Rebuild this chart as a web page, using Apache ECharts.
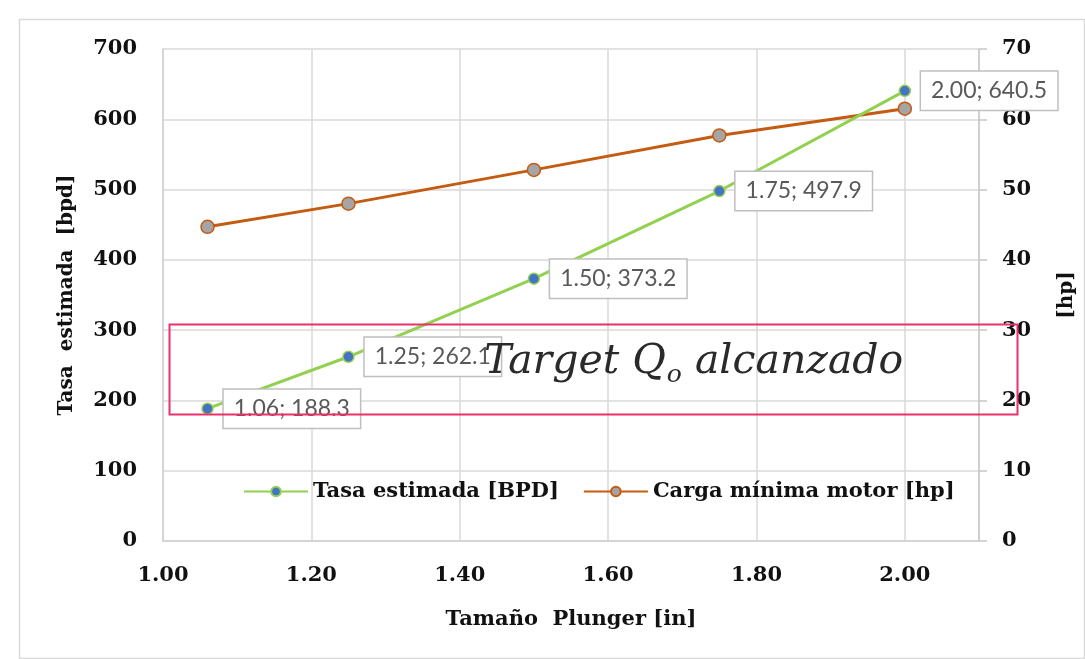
<!DOCTYPE html>
<html>
<head>
<meta charset="utf-8">
<script src="https://cdn.jsdelivr.net/npm/echarts@6/dist/echarts.min.js"></script>
<style>
  html, body { margin: 0; padding: 0; background: #fff; }
  #main { width: 1085px; height: 659px; }
</style>
</head>
<body>
<div id="main"></div>
<script>
// plunger sizes [in]
var plunger = [1.06, 1.25, 1.50, 1.75, 2.00];
// estimated rate [BPD]
var tasa = [188.3, 262.1, 373.2, 497.9, 640.5];
// minimum motor load [hp]
var carga = [44.7, 48.0, 52.8, 57.7, 61.5];
var xTicks = [1.00, 1.20, 1.40, 1.60, 1.80, 2.00];
var yLeftTicks = [0, 100, 200, 300, 400, 500, 600, 700];
var yRightTicks = [0, 10, 20, 30, 40, 50, 60, 70];

var serif = '"DejaVu Serif", serif';

var chart = echarts.init(document.getElementById('main'));

var option = {
    backgroundColor: '#fff',
    animation: false,
    grid: { left: 163, right: 106, top: 49, bottom: 118 },
    legend: {
        left: 238,
        top: 476,
        itemWidth: 64,
        itemHeight: 12,
        itemGap: 24,
        textStyle: { fontFamily: serif, fontWeight: 'bold', fontSize: 21, color: '#111' },
        data: ['Tasa estimada [BPD]', 'Carga mínima motor [hp]']
    },
    xAxis: {
        type: 'value',
        min: 1.0,
        max: 2.1,
        interval: 0.2,
        name: 'Tamaño  Plunger [in]',
        nameLocation: 'middle',
        nameGap: 68,
        nameTextStyle: { fontFamily: serif, fontWeight: 'bold', fontSize: 21, color: '#111' },
        axisLine: { show: true, lineStyle: { color: '#d0d0d0', width: 1.5 } },
        axisTick: { show: false },
        axisLabel: {
            showMaxLabel: false,
            margin: 24,
            fontFamily: serif, fontWeight: 'bold', fontSize: 21, color: '#111',
            formatter: function (v) { return v.toFixed(2); }
        },
        splitLine: { show: true, lineStyle: { color: '#d9d9d9', width: 1.5 } }
    },
    yAxis: [{
        type: 'value',
        min: yLeftTicks[0],
        max: yLeftTicks[yLeftTicks.length - 1],
        interval: 100,
        name: 'Tasa  estimada  [bpd]',
        nameLocation: 'middle',
        nameRotate: 90,
        nameGap: 86,
        nameTextStyle: { fontFamily: serif, fontWeight: 'bold', fontSize: 20, color: '#111' },
        axisLine: { show: true, lineStyle: { color: '#d0d0d0', width: 1.5 } },
        axisTick: { show: false },
        axisLabel: { margin: 26, fontFamily: serif, fontWeight: 'bold', fontSize: 21, color: '#111' },
        splitLine: { show: true, lineStyle: { color: '#d9d9d9', width: 1.5 } }
    }, {
        type: 'value',
        position: 'right',
        min: yRightTicks[0],
        max: yRightTicks[yRightTicks.length - 1],
        interval: 10,
        name: '[hp]',
        nameLocation: 'middle',
        nameRotate: 90,
        nameGap: 78,
        nameTextStyle: { fontFamily: serif, fontWeight: 'bold', fontSize: 20, color: '#111' },
        axisLine: { show: true, lineStyle: { color: '#c8c8c8', width: 1.5 } },
        axisTick: { show: true, length: 8, lineStyle: { color: '#c8c8c8', width: 1.5 } },
        axisLabel: { margin: 23, fontFamily: serif, fontWeight: 'bold', fontSize: 21, color: '#111' },
        splitLine: { show: false }
    }],
    series: [{
        name: 'Tasa estimada [BPD]',
        type: 'line',
        yAxisIndex: 0,
        data: plunger.map(function (x, i) { return [x, tasa[i]]; }),
        symbol: 'circle',
        symbolSize: 11,
        lineStyle: { color: '#92d050', width: 3 },
        itemStyle: { color: '#4472c4', borderColor: '#92d050', borderWidth: 1.5 },
        label: {
            show: true,
            position: 'right',
            distance: 10,
            formatter: function (p) { return p.value[0].toFixed(2) + '; ' + p.value[1].toFixed(1); },
            fontFamily: 'Lato, "Open Sans", sans-serif',
            fontSize: 23,
            color: '#595959',
            backgroundColor: '#fff',
            borderColor: '#bfbfbf',
            borderWidth: 1.5,
            padding: [8, 10, 7, 10]
        },
        z: 3
    }, {
        name: 'Carga mínima motor [hp]',
        type: 'line',
        yAxisIndex: 1,
        data: plunger.map(function (x, i) { return [x, carga[i]]; }),
        symbol: 'circle',
        symbolSize: 13,
        lineStyle: { color: '#c55a11', width: 3 },
        itemStyle: { color: '#a5a5a5', borderColor: '#c55a11', borderWidth: 1.5 },
        z: 2
    }],
    graphic: [{
        type: 'rect',
        left: 17, top: 17,
        shape: { width: 1065, height: 639 },
        style: { fill: 'none', stroke: '#d9d9d9', lineWidth: 1.5 },
        silent: true, z: -10
    }, {
        type: 'rect',
        left: 167, top: 322,
        shape: { width: 848, height: 90 },
        style: { fill: 'none', stroke: '#e8336a', lineWidth: 2 },
        silent: true, z: 100
    }, {
        type: 'text',
        left: 484, top: 342,
        style: {
            text: '{a|Target Q}{s|o}{a| alcanzado}',
            rich: {
                a: { fontFamily: serif, fontStyle: 'italic', fontSize: 41, fill: '#2a2a2a' },
                s: { fontFamily: serif, fontStyle: 'italic', fontSize: 25, fill: '#2a2a2a', padding: [26, 0, 0, 1] }
            }
        },
        silent: true, z: 100
    }]
};

chart.setOption(option);
</script>
</body>
</html>
